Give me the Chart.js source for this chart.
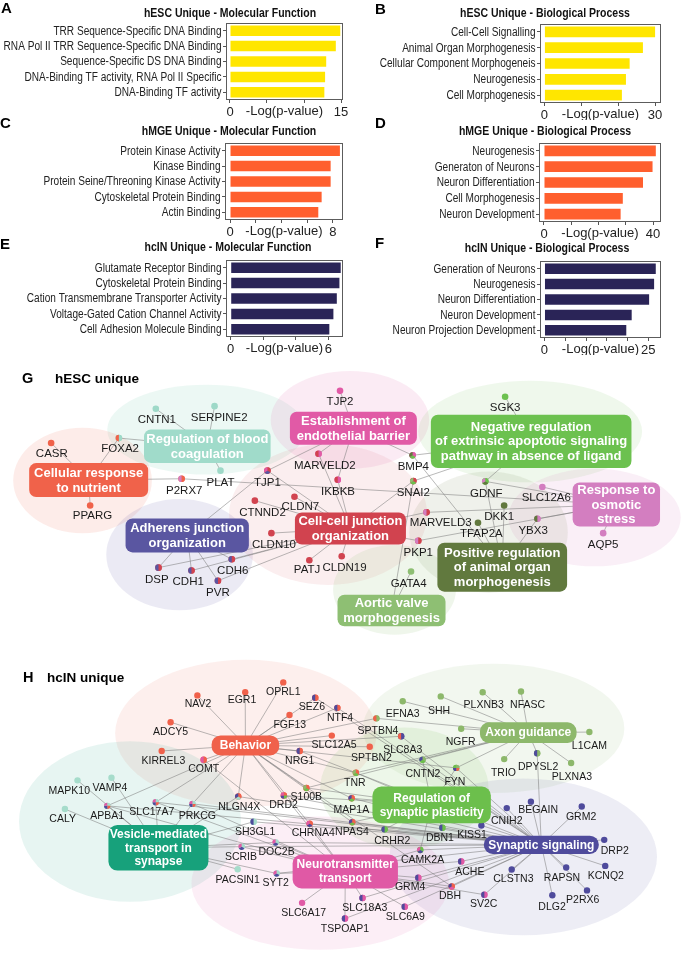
<!DOCTYPE html>
<html><head><meta charset="utf-8">
<script src="https://cdn.jsdelivr.net/npm/chart.js@4.4.0/dist/chart.umd.min.js"></script>
<style>
html,body{margin:0;padding:0;background:#fff;width:685px;height:956px;overflow:hidden;}
canvas{position:absolute;}
.lt{position:absolute;font-family:"Liberation Sans",Arial,sans-serif;font-weight:bold;color:#000;line-height:1;white-space:nowrap;}
</style></head><body>
<canvas id="cG" width="685" height="285" style="left:0;top:355px"></canvas>
<canvas id="cH" width="685" height="316" style="left:0;top:640px"></canvas>
<canvas id="cA" width="360" height="120" style="left:0;top:0"></canvas>
<canvas id="cB" width="340" height="120" style="left:345px;top:0"></canvas>
<canvas id="cC" width="360" height="120" style="left:0;top:120px"></canvas>
<canvas id="cD" width="340" height="120" style="left:345px;top:120px"></canvas>
<canvas id="cE" width="360" height="120" style="left:0;top:235px"></canvas>
<canvas id="cF" width="340" height="120" style="left:345px;top:235px"></canvas>
<div class="lt" style="left:1px;top:0px;font-size:15px">A</div>
<div class="lt" style="left:375px;top:1px;font-size:15px">B</div>
<div class="lt" style="left:0px;top:115px;font-size:15px">C</div>
<div class="lt" style="left:375px;top:115px;font-size:15px">D</div>
<div class="lt" style="left:0px;top:236px;font-size:15px">E</div>
<div class="lt" style="left:375px;top:235px;font-size:15px">F</div>
<div class="lt" style="left:22px;top:371px;font-size:14.5px">G</div>
<div class="lt" style="left:55px;top:372px;font-size:13.5px">hESC unique</div>
<div class="lt" style="left:23px;top:670px;font-size:14.5px">H</div>
<div class="lt" style="left:47px;top:671px;font-size:13.5px">hcIN unique</div>
<script>
// ================= DATA =================
const mfHescCats = ['TRR Sequence-Specific DNA Binding','RNA Pol II TRR Sequence-Specific DNA Binding','Sequence-Specific DS DNA Binding','DNA-Binding TF activity, RNA Pol II Specific','DNA-Binding TF activity'];
const mfHescVals = [14.9, 14.3, 13.0, 12.85, 12.75];
const bpHescCats = ['Cell-Cell Signalling','Animal Organ Morphogenesis','Cellular Component Morphogeneis','Neurogenesis','Cell Morphogenesis'];
const bpHescVals = [30.0, 26.7, 23.1, 22.1, 21.0];
const mfHmgeCats = ['Protein Kinase Activity','Kinase Binding','Protein Seine/Threoning Kinase Activity','Cytoskeletal Protein Binding','Actin Binding'];
const mfHmgeVals = [8.54, 7.82, 7.82, 7.12, 6.86];
const bpHmgeCats = ['Neurogenesis','Generaton of Neurons','Neuron Differentiation','Cell Morphogenesis','Neuron Development'];
const bpHmgeVals = [41.0, 39.8, 36.3, 28.9, 28.1];
const mfHcinCats = ['Glutamate Receptor Binding','Cytoskeletal Protein Binding','Cation Transmembrane Transporter Activity','Voltage-Gated Cation Channel Activity','Cell Adhesion Molecule Binding'];
const mfHcinVals = [6.76, 6.68, 6.52, 6.31, 6.06];
const bpHcinCats = ['Generation of Neurons','Neurogenesis','Neuron Differentiation','Neuron Development','Neuron Projection Development'];
const bpHcinVals = [26.8, 26.4, 25.2, 21.0, 19.7];

const ticksA = [0,5,10,15],   labelsA = [0,15];
const ticksB = [0,10,20,30],  labelsB = [0,30];
const ticksC = [0,2,4,6,8],   labelsC = [0,8];
const ticksD = [0,10,20,30,40], labelsD = [0,40];
const ticksE = [0,2,4,6],     labelsE = [0,6];
const ticksF = [0,5,10,15,20,25], labelsF = [0,25];

// network G: terms [id, label, x, y]; genes [name, x, y, terms]
const termsG = [
 ['BC','Regulation of blood\ncoagulation',206,445],
 ['CR','Cellular response\nto nutrient',86.2,479.7],
 ['AJ','Adherens junction\norganization',185.7,536.3],
 ['CC','Cell-cell junction\norganization',350.5,529.2],
 ['EB','Establishment of\nendothelial barrier',353.5,426.5],
 ['NR','Negative regulation\nof extrinsic apoptotic signaling\npathway in absence of ligand',533,440],
 ['RO','Response to\nosmotic\nstress',619,504.7],
 ['PR','Positive regulation\nof animal organ\nmorphogenesis',503.8,568.8],
 ['AV','Aortic valve\nmorphogenesis',392,613.2]
];
const genesG = [
 ['CNTN1',154,406.7,['BC']],['SERPINE2',213.3,404,['BC']],['FOXA2',116.7,436.7,['BC','CR']],
 ['CASR',48.3,441.7,['CR']],['PLAT',219.3,470,['BC']],['P2RX7',180,478.3,['CR','RO']],
 ['PPARG',87.7,505.7,['CR']],['TJP1',266.7,470,['CC','AJ','EB']],['CTNND2',254,500.7,['CC']],
 ['CLDN7',294,496.7,['CC']],['CLDN10',270.7,534,['CC']],['DSP',156.7,569.3,['CC','AJ']],
 ['CDH1',190,572.3,['CC','AJ']],['CDH6',230.7,560.7,['CC','AJ']],['PVR',216.7,582.7,['CC','AJ']],
 ['PATJ',309,561.7,['CC']],['CLDN19',341.7,557.7,['CC']],['TJP2',340,388.3,['EB']],
 ['MARVELD2',318.3,452.7,['EB','CC']],['IKBKB',337.7,479.3,['EB','CC']],
 ['BMP4',413.3,454.3,['EB','NR','PR']],['SNAI2',414,480.7,['CC','NR','AV']],
 ['SGK3',506.7,394.3,['NR']],['GDNF',486.7,481,['NR','PR','RO']],['SLC12A6',544.3,486.7,['RO']],
 ['DKK1',505.7,505.7,['PR']],['MARVELD3',427.3,512.7,['CC','RO']],['TFAP2A',479.3,523.3,['PR']],
 ['YBX3',539.3,519.3,['RO','PR']],['AQP5',605.7,534,['RO']],['PKP1',419,541.7,['CC','RO']],
 ['GATA4',411.7,573.3,['AV']]
];
// network H
const termsH = [
 ['BH','Behavior',244.5,744.3],
 ['AX','Axon guidance',530,731.3],
 ['RP','Regulation of\nsynaptic plasticity',432.5,805],
 ['VT','Vesicle-mediated\ntransport in\nsynapse',156.7,848.8],
 ['SS','Synaptic signaling',543.2,845.8],
 ['NT','Neurotransmitter\ntransport',345.3,873]
];
const genesH = [
 ['NAV2',196,693.3,['BH']],['EGR1',244.3,690,['BH']],['OPRL1',282.7,680,['BH']],
 ['SEZ6',315,695.7,['BH','SS']],['NTF4',337.3,706,['BH','SS']],['FGF13',289,713.3,['BH']],
 ['ADCY5',169,720.7,['BH']],['SLC12A5',331.7,734.3,['BH']],['KIRREL3',160,750,['BH']],
 ['COMT',202.3,759,['BH','NT']],['NRG1',299.3,750,['BH','SS']],['MAPK10',75,780,['VT']],
 ['VAMP4',109.3,777.3,['VT']],['S100B',306,787.7,['BH','RP','AX']],
 ['NLGN4X',237.3,796.5,['BH','VT','SS']],['DRD2',283.3,795.5,['BH','RP','SS','NT']],
 ['CALY',62.3,809.3,['VT']],['APBA1',105,806,['VT','BH','SS','NT']],
 ['SLC17A7',154,802.3,['VT','BH','SS','NT']],['PRKCG',191,804,['VT','BH','SS','NT']],
 ['SH3GL1',252.7,822.3,['VT','SS']],['CHRNA4',309.3,824.3,['BH','SS','NT']],
 ['SCRIB',240.7,847.7,['VT','SS','NT']],['DOC2B',275,843.3,['VT','SS','NT']],
 ['PACSIN1',236.7,870.7,['VT']],['SYT2',276,875,['VT','SS','NT']],['SLC6A17',301.7,905,['NT']],
 ['MAP1A',351.7,798.3,['BH','RP','SS']],['NPAS4',352.3,822.7,['BH','RP','SS']],
 ['CRHR2',385,830,['RP','SS']],['DBN1',443.3,828.3,['RP','SS']],['KISS1',482.7,826,['SS']],
 ['CNIH2',508.3,808.3,['SS']],['BEGAIN',532.7,801.7,['SS']],['GRM2',584,806.7,['SS']],
 ['DRP2',606.7,840.7,['SS']],['CAMK2A',421,851,['RP','SS','NT']],['ACHE',462.3,862.7,['NT','SS']],
 ['CLSTN3',513.3,871,['SS']],['RAPSN',568.3,869,['SS']],['KCNQ2',607.7,867.3,['SS']],
 ['GRM4',419,879.3,['NT','SS']],['DBH',452.7,888.3,['BH','NT','SS']],['SV2C',485.7,896.7,['NT','SS']],
 ['DLG2',554.3,897.3,['SS']],['P2RX6',589.3,892.3,['SS']],['SLC18A3',362.7,900,['NT','SS']],
 ['SLC6A9',405.3,909,['NT','SS']],['TSPOAP1',345,921,['NT','SS']],
 ['EFNA3',403.3,699.3,['AX']],['SPTBN4',376.7,716.7,['AX','BH']],['SLC8A3',401.7,735,['SS','BH']],
 ['SPTBN2',370,745.7,['BH']],['CNTN2',423.3,759,['AX','RP','SS']],['TNR',356,772.3,['BH','RP','AX']],
 ['FYN',457.3,767.3,['AX','BH','SS','RP']],['SHH',441.7,694.3,['AX']],['PLXNB3',484,690,['AX']],
 ['NFASC',522.7,689.3,['AX']],['NGFR',462.3,727.3,['AX']],['L1CAM',591.7,730.7,['AX']],
 ['TRIO',505.7,758.3,['AX']],['DPYSL2',539,752.3,['AX','SS']],['PLXNA3',573.3,762.3,['AX']]
];

// ================= STYLE / LAYOUT =================
const FONT = '"Liberation Sans", Arial, Helvetica, sans-serif';

const styleG = {
 termColor:{BC:'#A0DBCA',CR:'#F0624A',AJ:'#5A56A1',CC:'#D1434F',EB:'#E15AA6',NR:'#6CC14F',RO:'#D37EC0',PR:'#61793E',AV:'#8EBF73'},
 nodeColor:{BC:'#9ED9C8',CR:'#F0624A',AJ:'#5A56A1',CC:'#D1434F',EB:'#E15AA6',NR:'#6CC14F',RO:'#D37EC0',PR:'#61793E',AV:'#8EBF73'},
 box:{BC:[126.6,33.4],CR:[119,34],AJ:[123.3,34],CC:[111,32],EB:[127,33],NR:[200.6,53.4],RO:[87.4,44],PR:[129.7,49],AV:[108,31.7]},
 radius:7, boxFont:'bold 13px '+FONT, lineH:14.7, labelFont:'11.5px '+FONT, r:3.3,
 blobs:[
  [205,428,100,46,'rgba(159,218,202,0.20)'],[80,480,70,54,'rgba(240,98,74,0.12)'],
  [178,556,74,57,'rgba(90,86,161,0.12)'],[328,515,100,72,'rgba(209,67,79,0.09)'],
  [350,418,80,50,'rgba(225,90,166,0.12)'],[532,430,113,52,'rgba(108,193,79,0.11)'],
  [597,518,87,50,'rgba(211,126,192,0.12)'],[490,533,80,62,'rgba(97,121,62,0.10)'],
  [395,592,62,46,'rgba(142,191,115,0.14)']
 ],
 labelPos:{CNTN1:[155,418.3],SERPINE2:[218,416],FOXA2:[118,448],CASR:[49,453],PLAT:[219.3,482.3],
  P2RX7:[182.7,491],TJP1:[266.7,482.7],PPARG:[90,516.7],CTNND2:[261.7,513.3],CLDN7:[300,506.7],
  CLDN10:[273.3,545.7],DSP:[155,581.7],CDH1:[186.7,584.3],CDH6:[231.7,572.3],PVR:[216.7,595],
  PATJ:[306.7,571.7],CLDN19:[344.5,569.3],TJP2:[340,399.3],MARVELD2:[324.7,465],IKBKB:[338,491.7],
  BMP4:[414,466],SNAI2:[414,492.7],SGK3:[506.7,405.7],GDNF:[487.7,493.3],SLC12A6:[548.3,497.7],
  DKK1:[500.7,517.3],MARVELD3:[441.7,523.3],TFAP2A:[482.7,535],YBX3:[535,531.7],AQP5:[605.7,545.7],
  PKP1:[419,554],GATA4:[409.3,586]}
};
const styleH = {
 termColor:{BH:'#F0614B',AX:'#8DB86B',RP:'#6CBF4C',VT:'#17A17B',SS:'#4F4B9C',NT:'#E059A5'},
 nodeColor:{BH:'#F0614B',AX:'#8DB86B',RP:'#6CBF4C',VT:'#A6DCCB',SS:'#4F4B9C',NT:'#E059A5'},
 box:{BH:[67.6,20],AX:[96.6,20.7],RP:[118.4,36.6],VT:[100,45.7],SS:[115,18.3],NT:[105.3,34]},
 radius:9, boxFont:'bold 12px '+FONT, lineH:13.7, labelFont:'10.5px '+FONT, r:3.2,
 blobs:[
  [245,732,132,75,'rgba(240,97,75,0.10)'],[128,822,112,82,'rgba(23,161,123,0.10)'],
  [495,727,132,66,'rgba(141,184,107,0.11)'],[405,788,85,62,'rgba(108,191,76,0.12)'],
  [525,858,135,80,'rgba(79,75,156,0.10)'],[320,885,130,68,'rgba(224,89,165,0.10)']
 ],
 labelPos:{NAV2:[196.7,702.3],EGR1:[241,698.3],OPRL1:[282.7,690],SEZ6:[311.7,705.7],NTF4:[340,716.7],
  FGF13:[289.3,723.3],ADCY5:[169,730.7],SLC12A5:[334,744.3],KIRREL3:[161.7,760],COMT:[202.3,769],
  NRG1:[299.3,760],MAPK10:[66.7,790.7],VAMP4:[107.7,788.3],S100B:[306,797.3],NLGN4X:[238.3,807.3],
  DRD2:[283,805.7],CALY:[60,820],APBA1:[105,816.7],SLC17A7:[150,812.7],PRKCG:[196,816.7],
  SH3GL1:[254.3,832.7],CHRNA4:[313,833.5],SCRIB:[240,858.3],DOC2B:[276,853.3],PACSIN1:[236.7,881.7],
  SYT2:[275,885],SLC6A17:[303.3,915],MAP1A:[351.5,810],NPAS4:[352,833],CRHR2:[392.7,841.7],
  DBN1:[440.8,839.3],KISS1:[473.3,836],CNIH2:[508.3,821.7],BEGAIN:[540,810],GRM2:[583.3,817.3],
  DRP2:[617.3,851.7],CAMK2A:[423.3,861],ACHE:[471,873.3],CLSTN3:[515,881],RAPSN:[564,879.3],
  KCNQ2:[608.3,877.3],GRM4:[410.7,889],DBH:[451,898.3],SV2C:[485,906.7],DLG2:[554,909.3],
  P2RX6:[585,902.7],SLC18A3:[365,910],SLC6A9:[406,919.3],TSPOAP1:[345,932],EFNA3:[403.3,712.7],
  SPTBN4:[378.3,730],SLC8A3:[403.3,749],SPTBN2:[371.7,757.3],CNTN2:[423.7,773.3],TNR:[355,782.7],
  FYN:[456,781.7],SHH:[440,709.3],PLXNB3:[485,703.3],NFASC:[529.3,703.3],NGFR:[461.7,741],
  L1CAM:[591.7,745],TRIO:[505,772.3],DPYSL2:[540,766],PLXNA3:[574,776.7]}
};

// ================= BAR PANELS =================
const NARROW_SCALE = 0.84;
const panelPlugin = {
 id:'panelDeco',
 afterDraw(chart, args, o){
  const {ctx, chartArea:a} = chart;
  ctx.save();
  ctx.strokeStyle='#5c5c5c'; ctx.lineWidth=1;
  ctx.strokeRect(Math.round(a.left)+0.5, Math.round(a.top)+0.5, Math.round(a.right-a.left)-1, Math.round(a.bottom-a.top)-1);
  // condensed category labels, placed with the library's category scale
  const ys = chart.scales.y;
  ctx.fillStyle='#222'; ctx.font='12px '+FONT; ctx.textAlign='right'; ctx.textBaseline='middle';
  chart.data.labels.forEach((lab,i)=>{
   ctx.save(); ctx.translate(a.left-4.5, ys.getPixelForTick(i)); ctx.scale(NARROW_SCALE,1);
   ctx.fillText(lab,0,0.5); ctx.restore();
  });
  // panel title (condensed bold)
  ctx.fillStyle='#111'; ctx.font='bold 12.5px '+FONT; ctx.textAlign='center';
  ctx.save(); ctx.translate(o.tx,o.ty); ctx.scale(NARROW_SCALE,1); ctx.fillText(o.title,0,0); ctx.restore();
  // axis title between the end tick labels
  ctx.font='13px '+FONT; ctx.fillStyle='#222';
  ctx.fillText('-Log(p-value)', (a.left+a.right)/2, a.bottom+11.5);
  ctx.restore();
 }
};
function makeBar(id, cats, vals, tks, lbls, color, g){
 return new Chart(document.getElementById(id), {
  type:'bar',
  data:{labels:cats, datasets:[{data:vals, backgroundColor:color, borderWidth:0, barPercentage:0.68, categoryPercentage:1}]},
  options:{
   indexAxis:'y', responsive:false, animation:false, events:[],
   layout:{padding:{top:g.top, right:g.right, left:0, bottom:0}},
   plugins:{legend:{display:false}, tooltip:{enabled:false}, panelDeco:{title:g.title, tx:g.tx, ty:g.ty}},
   scales:{
    x:{type:'linear', min:g.min, max:g.max,
       afterBuildTicks:s=>{ s.ticks = tks.map(v=>({value:v})); },
       afterFit:s=>{ s.height = g.axisH; },
       grid:{display:true, drawOnChartArea:false, drawTicks:true, tickLength:3, color:'#555'},
       border:{display:false},
       ticks:{autoSkip:false, maxRotation:0, padding:2, color:'#222', font:{family:FONT, size:13},
              callback:v=> lbls.includes(v) ? String(v) : ''}},
    y:{afterFit:s=>{ s.width = g.axisW; },
       grid:{display:true, drawOnChartArea:false, drawTicks:true, tickLength:3, color:'#555', offset:false},
       border:{display:false},
       ticks:{autoSkip:false, padding:1, font:{size:12}, callback:()=>''}}
   }
  },
  plugins:[panelPlugin]
 });
}
makeBar('cA', mfHescCats, mfHescVals, ticksA, labelsA, '#FFE600',
 {top:23,right:17,axisW:226,axisH:20,min:-0.54,max:15.27,title:'hESC Unique - Molecular Function',tx:230,ty:14});
makeBar('cB', bpHescCats, bpHescVals, ticksB, labelsB, '#FFE600',
 {top:24,right:24,axisW:195,axisH:17,min:-1.2,max:31.6,title:'hESC Unique - Biological Process',tx:200,ty:14});
makeBar('cC', mfHmgeCats, mfHmgeVals, ticksC, labelsC, '#FF5F2E',
 {top:23,right:17,axisW:225,axisH:20,min:-0.39,max:8.78,title:'hMGE Unique - Molecular Function',tx:229,ty:12});
makeBar('cD', bpHmgeCats, bpHmgeVals, ticksD, labelsD, '#FF5F2E',
 {top:23,right:24,axisW:194,axisH:18,min:-1.83,max:42.9,title:'hMGE Unique - Biological Process',tx:200,ty:12});
makeBar('cE', mfHcinCats, mfHcinVals, ticksE, labelsE, '#2A2457',
 {top:25,right:17,axisW:226,axisH:18,min:-0.29,max:6.9,title:'hcIN Unique - Molecular Function',tx:228,ty:13});
makeBar('cF', bpHcinCats, bpHcinVals, ticksF, labelsF, '#2A2457',
 {top:26,right:24,axisW:195,axisH:17,min:-1.08,max:28.06,title:'hcIN Unique - Biological Process',tx:202,ty:14});

// ================= NETWORKS =================
function rrect(ctx,x,y,w,h,r){
 r=Math.min(r,h/2,w/2);
 ctx.beginPath(); ctx.moveTo(x+r,y); ctx.lineTo(x+w-r,y); ctx.arcTo(x+w,y,x+w,y+r,r);
 ctx.lineTo(x+w,y+h-r); ctx.arcTo(x+w,y+h,x+w-r,y+h,r); ctx.lineTo(x+r,y+h);
 ctx.arcTo(x,y+h,x,y+h-r,r); ctx.lineTo(x,y+r); ctx.arcTo(x,y,x+r,y,r); ctx.closePath();
}
function makeNet(id, yTop, yBot, terms, genes, st){
 const tIdx = {}; terms.forEach((t,i)=>tIdx[t[0]]=i);
 const plug = {
  id:'net_'+id,
  beforeDatasetsDraw(chart){
   const {ctx, scales:{x,y}} = chart;
   ctx.save();
   st.blobs.forEach(b=>{
    const cx=x.getPixelForValue(b[0]), cy=y.getPixelForValue(b[1]);
    const rx=Math.abs(x.getPixelForValue(b[0]+b[2])-cx), ry=Math.abs(y.getPixelForValue(b[1]+b[3])-cy);
    ctx.fillStyle=b[4]; ctx.beginPath(); ctx.ellipse(cx,cy,rx,ry,0,0,Math.PI*2); ctx.fill();
   });
   ctx.strokeStyle='rgba(120,120,120,0.75)'; ctx.lineWidth=0.7;
   genes.forEach(g=>{
    g[3].forEach(tid=>{
     const t=terms[tIdx[tid]];
     ctx.beginPath();
     ctx.moveTo(x.getPixelForValue(g[1]), y.getPixelForValue(g[2]));
     ctx.lineTo(x.getPixelForValue(t[2]), y.getPixelForValue(t[3]));
     ctx.stroke();
    });
   });
   ctx.restore();
  },
  afterDatasetsDraw(chart){
   const {ctx, scales:{x,y}} = chart;
   ctx.save();
   genes.forEach(g=>{
    const px=x.getPixelForValue(g[1]), py=y.getPixelForValue(g[2]), n=g[3].length;
    if(n>1){
     g[3].forEach((tid,k)=>{
      ctx.fillStyle=st.nodeColor[tid]; ctx.beginPath(); ctx.moveTo(px,py);
      ctx.arc(px,py,st.r,-Math.PI/2+k*2*Math.PI/n,-Math.PI/2+(k+1)*2*Math.PI/n); ctx.closePath(); ctx.fill();
     });
    }
   });
   ctx.textAlign='center'; ctx.textBaseline='middle';
   terms.forEach(t=>{
    const px=x.getPixelForValue(t[2]), py=y.getPixelForValue(t[3]);
    const [w,h]=st.box[t[0]];
    ctx.fillStyle=st.termColor[t[0]];
    rrect(ctx,px-w/2,py-h/2,w,h,st.radius); ctx.fill();
    ctx.fillStyle='#fff'; ctx.font=st.boxFont;
    const lines=t[1].split('\n');
    lines.forEach((ln,i)=>ctx.fillText(ln, px, py+(i-(lines.length-1)/2)*st.lineH+0.5));
   });
   ctx.fillStyle='#1a1a1a'; ctx.font=st.labelFont;
   genes.forEach(g=>{
    const p=st.labelPos[g[0]]; if(!p) return;
    ctx.fillText(g[0], x.getPixelForValue(p[0]), y.getPixelForValue(p[1]));
   });
   ctx.restore();
  }
 };
 return new Chart(document.getElementById(id), {
  type:'scatter',
  data:{datasets:[
   {data:genes.map(g=>({x:g[1],y:g[2]})), pointRadius:st.r, pointBorderWidth:0, pointHoverRadius:st.r,
    pointBackgroundColor:genes.map(g=>st.nodeColor[g[3][0]]), clip:false},
   {data:terms.map(t=>({x:t[2],y:t[3]})), pointRadius:0, clip:false}
  ]},
  options:{responsive:false, animation:false, events:[],
   layout:{padding:0},
   plugins:{legend:{display:false}, tooltip:{enabled:false}},
   scales:{x:{type:'linear',min:0,max:685,display:false},
           y:{type:'linear',min:yTop,max:yBot,reverse:true,display:false}}},
  plugins:[plug]
 });
}
makeNet('cG', 355, 640, termsG, genesG, styleG);
makeNet('cH', 640, 956, termsH, genesH, styleH);
</script>
</body></html>
